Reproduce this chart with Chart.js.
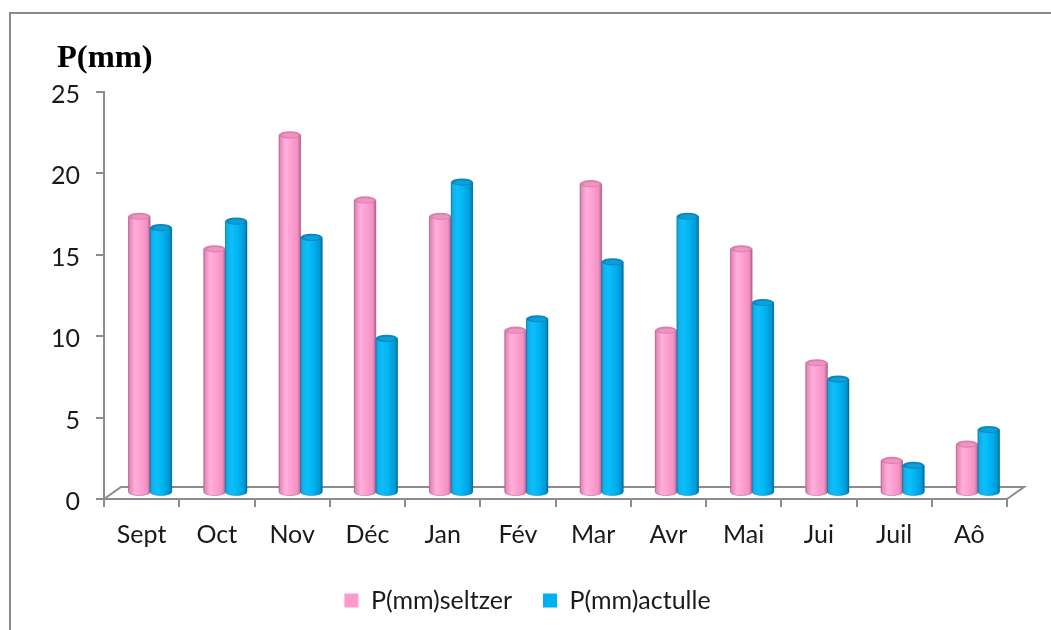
<!DOCTYPE html>
<html><head><meta charset="utf-8">
<script src="https://cdn.jsdelivr.net/npm/chart.js@4.4.1/dist/chart.umd.min.js"></script>
<style>
html,body{margin:0;padding:0;background:#fff;}
#wrap{position:relative;width:1051px;height:630px;overflow:hidden;background:#fff;}
#frame{position:absolute;left:9px;top:12px;width:1100px;height:700px;border-top:2px solid #8a8a8a;border-left:2px solid #8a8a8a;}
#ytitle{position:absolute;left:57px;top:40px;font:bold 32.5px "Liberation Serif","Times New Roman",serif;line-height:1;color:#000;white-space:nowrap;}
canvas{position:absolute;left:0;top:0;}
</style></head><body>
<div id="wrap"><div id="frame"></div><canvas id="c" width="1051" height="630"></canvas><div id="ytitle">P(mm)</div></div>
<script>
const categories = ['Sept','Oct','Nov','Déc','Jan','Fév','Mar','Avr','Mai','Jui','Juil','Aô'];
const seltzer = [17, 15, 22, 18, 17, 10, 19, 10, 15, 8, 2, 3];
const actulle = [16.3, 16.7, 15.7, 9.5, 19.1, 10.7, 14.2, 17.0, 11.7, 7.0, 1.7, 3.9];
const seriesNames = ['P(mm)seltzer', 'P(mm)actulle'];
const yMin = 0, yMax = 25, yStep = 5;

const DX = 17, DY = 12;
const FONT = {family: 'Lato, "Open Sans", sans-serif', size: 25};
const styles = [
  {base:'#ff99cc', stops:[[0,'#c47499'],[0.07,'#e98ab9'],[0.3,'#ffb0dc'],[0.55,'#ffa0d2'],[0.85,'#f291c3'],[1,'#b8658e']], top:'#db7fab', topIn:'#ee93c2', edge:'rgba(150,70,110,0.55)'},
  {base:'#00b0f0', stops:[[0,'#0a93cc'],[0.08,'#12aee8'],[0.3,'#0bc0fb'],[0.6,'#00b2f1'],[0.88,'#0098d4'],[1,'#00709f']], top:'#0a86bd', topIn:'#0aa0da', edge:'rgba(0,90,130,0.5)'}
];

const threeD = {
  id: 'threeD',
  beforeDatasetsDraw(chart) {
    const {ctx, scales: {x, y}} = chart;
    const y0 = y.getPixelForValue(0);
    ctx.save();
    ctx.strokeStyle = '#8c8c8c';
    ctx.lineWidth = 2;
    ctx.beginPath();
    ctx.moveTo(x.left, y0);
    ctx.lineTo(x.left + DX, y0 - DY);
    ctx.lineTo(x.right + DX, y0 - DY);
    ctx.lineTo(x.right, y0);
    ctx.stroke();
    ctx.restore();
    ctx.save();
    ctx.translate(DX / 2, -DY / 2);
  },
  afterDatasetsDraw(chart) {
    const ctx = chart.ctx;
    chart.data.datasets.forEach((ds, i) => {
      const meta = chart.getDatasetMeta(i);
      const st = styles[i];
      meta.data.forEach(el => {
        const {x, y, base, width} = el.getProps(['x','y','base','width'], true);
        const rx = width / 2, ry = 3.6;
        const l = x - rx, r = x + rx;
        const g = ctx.createLinearGradient(l, 0, r, 0);
        st.stops.forEach(s => g.addColorStop(s[0], s[1]));
        ctx.beginPath();
        ctx.moveTo(l, y);
        ctx.lineTo(l, base);
        ctx.ellipse(x, base, rx, ry, 0, Math.PI, 0, true);
        ctx.lineTo(r, y);
        ctx.closePath();
        ctx.fillStyle = g;
        ctx.fill();
        ctx.strokeStyle = st.edge;
        ctx.lineWidth = 0.8;
        ctx.stroke();
        ctx.beginPath();
        ctx.ellipse(x, y, rx, ry, 0, 0, Math.PI * 2);
        ctx.fillStyle = st.top;
        ctx.fill();
        ctx.beginPath();
        ctx.ellipse(x + 0.5, y + 0.4, rx - 2.5, ry - 1.4, 0, 0, Math.PI * 2);
        ctx.fillStyle = st.topIn;
        ctx.fill();
      });
    });
    ctx.restore();
  }
};

new Chart(document.getElementById('c'), {
  type: 'bar',
  data: {
    labels: categories,
    datasets: [
      {label: seriesNames[0], data: seltzer, backgroundColor: styles[0].base, borderWidth: 0},
      {label: seriesNames[1], data: actulle, backgroundColor: styles[1].base, borderWidth: 0}
    ]
  },
  options: {
    responsive: false,
    animation: false,
    devicePixelRatio: 1,
    categoryPercentage: 0.575,
    barPercentage: 1,
    layout: {padding: {left: 48, right: 44, top: 92, bottom: 7}},
    plugins: {
      legend: {
        position: 'bottom',
        labels: {boxWidth: 14, boxHeight: 14, padding: 31, color: '#1a1a1a', font: FONT}
      },
      tooltip: {enabled: false},
      title: {display: false}
    },
    scales: {
      x: {
        afterFit: s => { s.height = 58; },
        grid: {display: true, drawOnChartArea: false, offset: true, color: '#8c8c8c', lineWidth: 2, tickLength: 8, tickWidth: 2},
        border: {color: '#8c8c8c', width: 2},
        ticks: {color: '#1a1a1a', font: FONT, padding: 13, maxRotation: 0}
      },
      y: {
        min: yMin, max: yMax,
        afterFit: s => { s.width = 56; },
        grid: {display: true, drawOnChartArea: false, color: '#8c8c8c', lineWidth: 2, tickLength: 8, tickWidth: 2},
        border: {color: '#8c8c8c', width: 2},
        ticks: {stepSize: yStep, color: '#1a1a1a', font: FONT, padding: 16, labelOffset: 3}
      }
    }
  },
  plugins: [threeD]
});
</script>
</body></html>
